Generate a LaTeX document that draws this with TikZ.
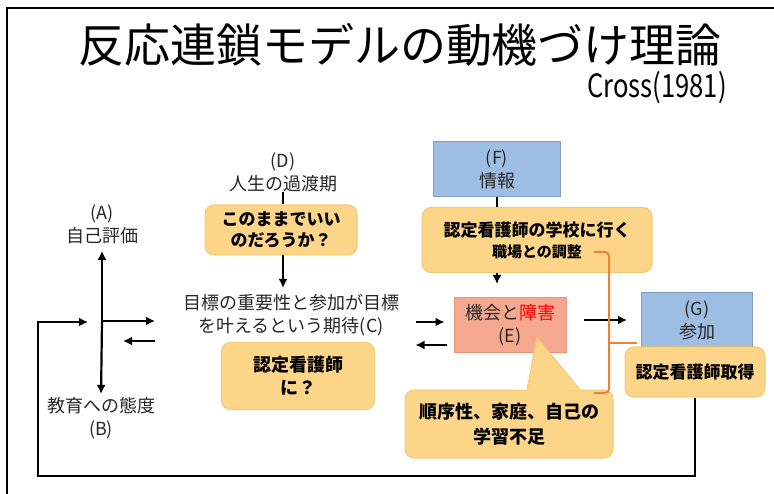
\documentclass[tikz,border=0pt]{standalone}
\usepackage{fontspec}
\setmainfont{Noto Sans CJK JP}
\usetikzlibrary{arrows.meta,positioning,calc}
\definecolor{boxblue}{HTML}{9DBDE3}
\definecolor{lineblue}{HTML}{7F9FC8}
\definecolor{boxred}{HTML}{F5A88E}
\definecolor{linered}{HTML}{E8957A}
\definecolor{boxorange}{HTML}{FCD588}
\definecolor{lineorange}{HTML}{F3C972}
\definecolor{bracecol}{HTML}{E8843A}
\definecolor{txtgray}{HTML}{262626}

\begin{document}
\begin{tikzpicture}[x=1pt,y=-1pt,
	txt/.style={align=center,font=\fontsize{18}{23}\selectfont,text=txtgray,inner sep=0pt},
	bluebox/.style={txt,draw=lineblue,fill=boxblue,line width=1pt,minimum width=127pt,minimum height=55pt},
	redbox/.style={txt,draw=linered,fill=boxred,line width=1pt,minimum width=112pt,minimum height=55pt},
	orbox/.style={align=center,font=\fontsize{17}{21}\selectfont\bfseries,text=black,draw=lineorange,fill=boxorange,
		line width=1pt,rounded corners=9pt,inner sep=0pt},
	arr/.style={line width=2.2pt,-{Latex[length=9pt,width=9pt]}},
	plain/.style={line width=2.2pt}]
	\useasboundingbox (0,0) rectangle (774,494);
	% frame
	\draw[line width=1.5pt] (7,494) -- (7,8) -- (774,8);
	% title
	\node[inner sep=0pt,font=\fontsize{46}{46}\selectfont] (title) at (400,45) {反応連鎖モデルの動機づけ理論};
	\node[inner sep=0pt,anchor=east,font=\fontsize{32}{32}\selectfont] (cite) at (727,88) {\scalebox{0.8}[1]{Cross(1981)}};
	% left part
	\coordinate (J) at (102,321);
	\node[txt] (A) at (102,224) {(A)\\自己評価};
	\node[txt] (B) at (101,418) {教育への態度\\(B)};
	\draw[arr,shorten >=7pt] (J) -- (A.south);
	\draw[arr,shorten >=3pt] (J) -- (B.north);
	\draw[arr] (J) -- ++(53,0);
	\draw[arr] ([shift={(53,20)}]J) -- ++(-32,0);
	% centre column
	\node[txt] (D) at (283,172) {(D)\\人生の過渡期};
	\node[orbox,minimum width=152pt,minimum height=50pt] (Q1) at (281,230) {このままでいい\\のだろうか？};
	\node[txt] (C) at (291,315) {目標の重要性と参加が目標\\を叶えるという期待(C)};
	\node[orbox,minimum width=153pt,minimum height=67pt,font=\fontsize{18}{23}\selectfont\bfseries] (Q2) at (298,376) {認定看護師\\に？};
	\draw[plain] (D) -- (Q1.north -| D);
	\draw[arr,shorten >=6pt] (Q1.south -| D) -- (C.north -| D);
	% opportunities and barriers
	\node[bluebox] (F) at (497,169) {(F)\\情報};
	\node[orbox,minimum width=230pt,minimum height=65pt] (Q3) at (537,240) {認定看護師の学校に行く\\{\fontsize{15}{19}\selectfont 職場との調整}};
	\node[redbox] (E) at (510,325) {機会と{\color{red}障害}\\(E)};
	\draw[plain] (F.south) -- (F.south |- Q3.north);
	\draw[arr,shorten >=13pt] (F.south |- Q3.south) -- (F.south |- E.north);
	\draw[arr] ([shift={(-38,-3)}]E.west) -- ([shift={(-9,-3)}]E.west);
	\draw[arr] ([shift={(-7,20)}]E.west) -- ([shift={(-38,20)}]E.west);
	% participation
	\node[bluebox,minimum width=111pt,minimum height=54pt] (G) at (697,320) {(G)\\参加};
	\node[orbox,minimum width=140pt,minimum height=50pt] (Q4) at (695,372) {認定看護師取得};
	\draw[arr,shorten <=17pt,shorten >=14pt] (E.east |- G.west) -- (G.west);
	% callout
	\node[orbox,minimum width=208pt,minimum height=68pt,font=\fontsize{18}{25}\selectfont\bfseries] (Q5) at (509,424) {順序性、家庭、自己の\\学習不足};
	\fill[boxorange] ([shift={(18,1)}]Q5.north) -- ([shift={(28,-52)}]Q5.north) -- ([shift={(71,1)}]Q5.north) -- cycle;
	\draw[lineorange,line width=1pt] ([shift={(18,0)}]Q5.north) -- ([shift={(28,-52)}]Q5.north) -- ([shift={(71,0)}]Q5.north);
	% brace
	\draw[bracecol,line width=2pt,rounded corners=4pt] (594,252) -- (609,252) -- (609,393) -- (594,393);
	\draw[bracecol,line width=2pt] (609,343) -- (637,343);
	% feedback loop
	\coordinate (LB) at (38,476);
	\draw[arr] (Q4.south) |- (LB) |- ([shift={(-14,1)}]J);
\end{tikzpicture}
\end{document}
